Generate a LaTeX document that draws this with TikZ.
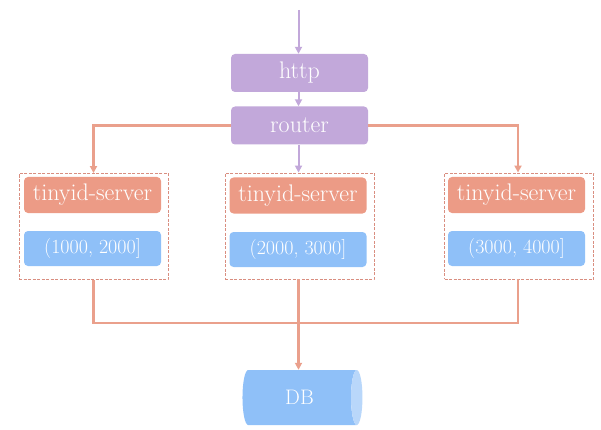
\documentclass[tikz,border=0pt]{standalone}
\usepackage{fontspec}
\setmainfont{Latin Modern Roman}
\usetikzlibrary{arrows.meta,shapes.geometric}
\definecolor{lav}{HTML}{C2A8DA}
\definecolor{sal}{HTML}{EC9B86}
\definecolor{salline}{HTML}{EAA08C}
\definecolor{blu}{HTML}{8FC0F8}
\definecolor{bluend}{HTML}{B9D7FA}
\definecolor{dashc}{HTML}{D98E80}
\begin{document}
\begin{tikzpicture}[x=1pt,y=-1pt,
  box/.style={rounded corners=4pt,minimum width=137pt,text=white,font=\fontsize{24}{26}\selectfont,inner sep=0pt},
  lavbox/.style={box,fill=lav,minimum height=38pt},
  salbox/.style={box,fill=sal,minimum height=36pt},
  blubox/.style={box,fill=blu,minimum height=35pt,font=\fontsize{20}{22}\selectfont},
  group/.style={draw=dashc,dashed,dash pattern=on 3pt off 1.5pt,line width=0.9pt,minimum width=149pt,minimum height=106pt,inner sep=0pt},
  lavarrow/.style={draw=lav,line width=2pt,-{Triangle[length=7pt,width=7pt]}},
  salarrow/.style={draw=salline,line width=2.4pt,-{Triangle[length=7pt,width=7pt]}},
  salline/.style={draw=salline,line width=2.4pt}
]
\useasboundingbox (0,0) rectangle (601,430);
\coordinate (top) at (298.5,10);
\node[lavbox] (http) at (299.5,73) {http};
\node[lavbox] (router) at (299.5,125.5) {router};

\node[group] (g1) at (93.5,226.5) {};
\node[group] (g2) at (299.5,226) {};
\node[group] (g3) at (519,226) {};

\node[salbox] (s1) at (92.5,195) {tinyid-server};
\node[salbox] (s2) at (298,195.5) {tinyid-server};
\node[salbox] (s3) at (516.5,195) {tinyid-server};
\node[blubox] (b1) at (92.5,248.5) {(1000, 2000]};
\node[blubox] (b2) at (298,249.5) {(2000, 3000]};
\node[blubox] (b3) at (516.5,248.5) {(3000, 4000]};

\node[cylinder,shape aspect=0.8,minimum height=120pt,minimum width=55pt,inner sep=0pt,
  cylinder uses custom fill,cylinder body fill=blu,cylinder end fill=bluend,draw=none,
  text=white,font=\fontsize{21}{23}\selectfont] (db) at (299.5,397.5) {DB};

\draw[lavarrow] (top) -- (http.north -| top);
\draw[lavarrow] (http.south -| top) -- (router.north -| top);
\draw[lavarrow] (router.south -| top) -- (g2.north -| top);

\coordinate (lc) at (93.5,125.5);
\coordinate (rc) at (518,125.5);
\draw[salarrow] (router.west) -- (lc) -- (g1.north -| lc);
\draw[salarrow] (router.east) -- (rc) -- (g3.north -| rc);

\coordinate (bl) at (93.5,323);
\coordinate (br) at (518,323);
\draw[salline] (g1.south -| bl) -- (bl) -- (br) -- (g3.south -| br);
\draw[salarrow] (g2.south -| top) -- (db.north -| top);
\end{tikzpicture}
\end{document}
